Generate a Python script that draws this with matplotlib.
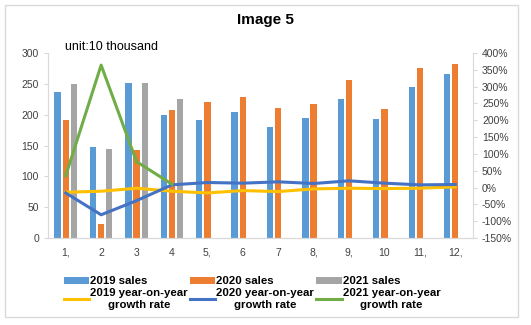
import matplotlib.pyplot as plt
import numpy as np
from matplotlib.patches import Rectangle

plt.rcParams['font.family'] = ['Liberation Sans', 'DejaVu Sans']

months = ['1,', '2', '3', '4', '5,', '6', '7', '8,', '9,', '10', '11,', '12,']
sales_2019 = [237, 148, 252, 199, 192, 205, 180, 194, 226, 193, 245, 266]
sales_2020 = [192, 22, 143, 207, 220, 229, 211, 217, 256, 210, 275, 282]
sales_2021 = [250, 145, 252, 226, np.nan, np.nan, np.nan, np.nan, np.nan, np.nan, np.nan, np.nan]
growth_2019 = [-14, -11, -2, -11, -16, -9, -12, -4, -2, -3, -2, 2]
growth_2020 = [-16, -81, -39, 8, 15, 13, 17, 12, 20, 13, 8, 9]
growth_2021 = [35, 364, 77, 10]

c_blue = '#5b9bd5'
c_orange = '#ed7d31'
c_gray = '#a5a5a5'
c_yellow = '#ffc000'
c_dblue = '#4472c4'
c_green = '#70ad47'

fig = plt.figure(figsize=(5.31, 3.25), dpi=100)
ax = fig.add_axes([48/531, 1 - 238/325, 425/531, 185/325])
ax2 = ax.twinx()

x = np.arange(len(months))
width = 0.18
b1 = ax.bar(x - 0.23, sales_2019, width, color=c_blue, label='2019 sales')
b2 = ax.bar(x, sales_2020, width, color=c_orange, label='2020 sales')
b3 = ax.bar(x + 0.23, sales_2021, width, color=c_gray, label='2021 sales')

l1, = ax2.plot(x, growth_2019, color=c_yellow, lw=2.2, label='2019 year-on-year\ngrowth rate')
l2, = ax2.plot(x, growth_2020, color=c_dblue, lw=2.2, label='2020 year-on-year\ngrowth rate')
l3, = ax2.plot(x[:len(growth_2021)], growth_2021, color=c_green, lw=2.2,
               label='2021 year-on-year\ngrowth rate')

ax.set_xlim(-0.5, len(months) - 0.5)
ax.set_ylim(0, 300)
ax.set_yticks(range(0, 301, 50))
ax2.set_ylim(-150, 400)
ax2.set_yticks(range(-150, 401, 50))
ax2.set_yticklabels([f'{v}%' for v in range(-150, 401, 50)])
ax.set_xticks(x)
ax.set_xticklabels(months)

for a in (ax, ax2):
    for s in a.spines.values():
        s.set_color('#d9d9d9')
    a.spines['top'].set_visible(False)
    a.tick_params(colors='#595959', labelsize=7.5, length=3, width=0.8)
    a.tick_params(axis='y', colors='#d9d9d9', labelcolor='#404040')
ax.tick_params(axis='x', length=0, pad=7, labelcolor='#404040')
ax.spines['right'].set_visible(False)
ax2.spines['left'].set_visible(False)

fig.text(0.5, 1 - 20/325, 'Image 5', ha='center', va='center', fontsize=11, fontweight='bold')
fig.text(65/531, 1 - 47/325, 'unit:10 thousand', ha='left', va='center', fontsize=9)

handles = [b1, l1, b2, l2, b3, l3]
leg = fig.legend(handles, [h.get_label() for h in handles], ncol=3,
                 loc='center', bbox_to_anchor=(0.475, 1 - 293/325), frameon=False,
                 prop={'size': 8.2, 'weight': 'bold'}, handlelength=2.2, handleheight=0.5,
                 columnspacing=0.2, labelspacing=0.15, handletextpad=0.1,
                 borderaxespad=0)
for t in leg.get_texts():
    t.set_multialignment('center')

fig.patches.append(Rectangle((5/531, 1 - 317/325), 513/531, 312/325,
                             transform=fig.transFigure, fill=False,
                             edgecolor='#d9d9d9', lw=1))

fig.savefig('out.png', dpi=100)
